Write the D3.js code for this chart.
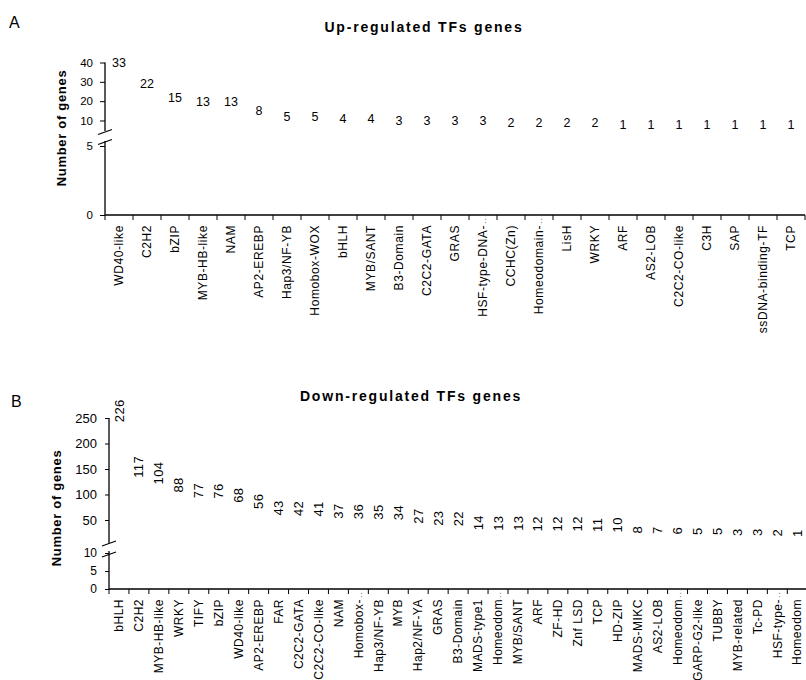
<!DOCTYPE html>
<html>
<head>
<meta charset="utf-8">
<script src="https://cdn.jsdelivr.net/npm/d3@7"></script>
<style>
  html, body { margin: 0; padding: 0; background: #fff; }
  svg { display: block; font-family: "Liberation Sans", Arial, sans-serif; }
</style>
</head>
<body>
<svg id="chart" width="806" height="680"></svg>
<script>
// Panel A: up-regulated transcription factor families
const catsUp = ["WD40-like", "C2H2", "bZIP", "MYB-HB-like", "NAM", "AP2-EREBP", "Hap3/NF-YB",
  "Homobox-WOX", "bHLH", "MYB/SANT", "B3-Domain", "C2C2-GATA", "GRAS", "HSF-type-DNA-",
  "CCHC(Zn)", "Homeodomain-", "LisH", "WRKY", "ARF", "AS2-LOB", "C2C2-CO-like", "C3H",
  "SAP", "ssDNA-binding-TF", "TCP"];
const valsUp = [33, 22, 15, 13, 13, 8, 5, 5, 4, 4, 3, 3, 3, 3, 2, 2, 2, 2, 1, 1, 1, 1, 1, 1, 1];
const truncUp = ["HSF-type-DNA-", "Homeodomain-"];
const ticksUpHigh = [10, 20, 30, 40];
const ticksUpLow = [0, 5];

// Panel B: down-regulated transcription factor families
const catsDown = ["bHLH", "C2H2", "MYB-HB-like", "WRKY", "TIFY", "bZIP", "WD40-like", "AP2-EREBP",
  "FAR", "C2C2-GATA", "C2C2-CO-like", "NAM", "Homobox-", "Hap3/NF-YB", "MYB", "Hap2/NF-YA",
  "GRAS", "B3-Domain", "MADS-type1", "Homeodom", "MYB/SANT", "ARF", "ZF-HD", "Znf LSD", "TCP",
  "HD-ZIP", "MADS-MIKC", "AS2-LOB", "Homeodom ", "GARP-G2-like", "TUBBY", "MYB-related",
  "Tc-PD", "HSF-type-", "Homeodom  "];
const valsDown = [226, 117, 104, 88, 77, 76, 68, 56, 43, 42, 41, 37, 36, 35, 34, 27, 23, 22, 14,
  13, 13, 12, 12, 12, 11, 10, 8, 7, 6, 5, 5, 3, 3, 2, 1];
const truncDown = ["Homobox-", "Homeodom", "Homeodom ", "HSF-type-"];
const ticksDownHigh = [50, 100, 150, 200, 250];
const ticksDownLow = [0, 5, 10];

const svg = d3.select("#chart");

function panel(cfg) {
  const g = svg.append("g");
  const data = cfg.cats.map((c, i) => ({ c, v: cfg.vals[i] }));
  const x = d3.scaleBand().domain(cfg.cats).range(cfg.xRange).padding(0);
  const bw = x.bandwidth();
  const yHi = d3.scaleLinear().domain(cfg.hiDomain).range(cfg.hiRange);
  const yLo = d3.scaleLinear().domain(cfg.loDomain).range(cfg.loRange);
  const ax = cfg.xRange[0];
  const baseY = cfg.loRange[0];
  const fmt = d3.format("d");

  // bars (white fill, drawn underneath the axes)
  g.append("g").selectAll("rect").data(data).join("rect")
    .attr("x", d => x(d.c) + bw * 0.2)
    .attr("width", bw * 0.6)
    .attr("y", d => yHi(d.v))
    .attr("height", d => Math.max(0, cfg.hiRange[0] - yHi(d.v)))
    .attr("fill", "#fff");

  // upper y axis segment
  const aHi = g.append("g").attr("transform", `translate(${ax},0)`)
    .call(d3.axisLeft(yHi).tickValues(cfg.hiTicks).tickFormat(fmt)
      .tickSize(cfg.tickLen).tickPadding(cfg.tickPad));
  aHi.select(".domain").remove();
  aHi.selectAll("text").attr("font-size", cfg.hiTickFont).attr("fill", "#000");
  aHi.selectAll("line").attr("stroke", "#000");
  g.append("line").attr("x1", ax).attr("x2", ax)
    .attr("y1", cfg.hiRange[1]).attr("y2", cfg.hiAxisEnd)
    .attr("stroke", "#000").attr("stroke-width", 1.3);

  // lower y axis segment
  const aLo = g.append("g").attr("transform", `translate(${ax},0)`)
    .call(d3.axisLeft(yLo).tickValues(cfg.loTicks).tickFormat(fmt)
      .tickSize(cfg.tickLen).tickPadding(cfg.tickPad));
  aLo.select(".domain").remove();
  aLo.selectAll("text").attr("font-size", cfg.loTickFont).attr("fill", "#000");
  aLo.selectAll("line").attr("stroke", "#000");
  g.append("line").attr("x1", ax).attr("x2", ax)
    .attr("y1", cfg.loAxisStart).attr("y2", baseY)
    .attr("stroke", "#000").attr("stroke-width", 1.3);

  // break marks
  cfg.breaks.forEach(by => {
    g.append("line")
      .attr("x1", ax - 7).attr("y1", by + 2.5)
      .attr("x2", ax + 7).attr("y2", by - 2.5)
      .attr("stroke", "#000").attr("stroke-width", 1.2);
  });

  // x axis with ticks at category boundaries
  g.append("line").attr("x1", ax).attr("x2", cfg.xRange[1])
    .attr("y1", baseY).attr("y2", baseY)
    .attr("stroke", "#000").attr("stroke-width", 1.3);
  const edges = cfg.cats.map(c => x(c)).concat([x(cfg.cats[cfg.cats.length - 1]) + bw]);
  g.append("g").selectAll("line").data(edges).join("line")
    .attr("x1", d => d).attr("x2", d => d)
    .attr("y1", baseY).attr("y2", baseY + 5)
    .attr("stroke", "#000");

  // category labels
  const lab = g.append("g").selectAll("g").data(data).join("g")
    .attr("transform", d => `translate(${x(d.c) + bw / 2},${baseY + cfg.catOffset}) rotate(-90)`);
  lab.append("text")
    .attr("text-anchor", "end")
    .attr("dy", "0.35em")
    .attr("font-size", cfg.catFont)
    .attr("letter-spacing", cfg.catSpacing)
    .attr("fill", "#000")
    .text(d => d.c.trim());
  lab.filter(d => cfg.trunc.includes(d.c)).append("text")
    .attr("text-anchor", "start")
    .attr("x", 1)
    .attr("dy", "0.35em")
    .attr("font-size", 9)
    .attr("fill", "#555")
    .attr("letter-spacing", "1px")
    .text("...");

  // value labels
  if (cfg.rotateValues) {
    g.append("g").selectAll("text").data(data).join("text")
      .attr("transform", d => `translate(${x(d.c) + bw / 2},${yHi(d.v) - cfg.valOffset}) rotate(-90)`)
      .attr("text-anchor", "start")
      .attr("dy", "0.35em")
      .attr("font-size", cfg.valFont)
      .attr("letter-spacing", "0.4px")
      .attr("fill", "#000")
      .text(d => d.v);
  } else {
    g.append("g").selectAll("text").data(data).join("text")
      .attr("x", d => x(d.c) + bw / 2)
      .attr("y", d => yHi(d.v) - cfg.valOffset)
      .attr("text-anchor", "middle")
      .attr("font-size", cfg.valFont)
      .attr("fill", "#000")
      .text(d => d.v);
  }

  // titles
  g.append("text")
    .attr("x", cfg.titleX).attr("y", cfg.titleY)
    .attr("text-anchor", "middle")
    .attr("font-size", 14).attr("font-weight", "bold")
    .attr("letter-spacing", "1.8px")
    .text(cfg.title);
  g.append("text")
    .attr("transform", `translate(${cfg.yTitleX},${cfg.yTitleY}) rotate(-90)`)
    .attr("text-anchor", "middle")
    .attr("font-size", 13).attr("font-weight", "bold")
    .attr("letter-spacing", "0.7px")
    .text("Number of genes");
  g.append("text")
    .attr("x", cfg.letterX).attr("y", cfg.letterY)
    .attr("font-size", 16)
    .text(cfg.letter);
}

panel({
  cats: catsUp, vals: valsUp, trunc: truncUp,
  xRange: [105, 805],
  hiDomain: [0, 40], hiRange: [139.8, 62.5], hiTicks: ticksUpHigh, hiAxisEnd: 131,
  loDomain: [0, 5], loRange: [215, 146], loTicks: ticksUpLow, loAxisStart: 141,
  breaks: [132, 142],
  tickLen: 5, tickPad: 7, hiTickFont: 11.5, loTickFont: 11.5,
  catOffset: 10, catFont: 12, catSpacing: "0.6px",
  rotateValues: false, valOffset: 9, valFont: 12.5,
  title: "Up-regulated TFs genes", titleX: 424, titleY: 32,
  yTitleX: 66, yTitleY: 128,
  letter: "A", letterX: 9, letterY: 28
});

panel({
  cats: catsDown, vals: valsDown, trunc: truncDown,
  xRange: [109, 109 + 35 * 19.95],
  hiDomain: [0, 250], hiRange: [545.5, 418], hiTicks: ticksDownHigh, hiAxisEnd: 543,
  loDomain: [0, 10], loRange: [589, 553], loTicks: ticksDownLow, loAxisStart: 551,
  breaks: [543.5, 554.5],
  tickLen: 4, tickPad: 8, hiTickFont: 13, loTickFont: 12,
  catOffset: 10, catFont: 12, catSpacing: "0.5px",
  rotateValues: true, valOffset: 8, valFont: 13,
  title: "Down-regulated TFs genes", titleX: 411, titleY: 401,
  yTitleX: 61, yTitleY: 508,
  letter: "B", letterX: 11, letterY: 407
});
</script>
</body>
</html>
